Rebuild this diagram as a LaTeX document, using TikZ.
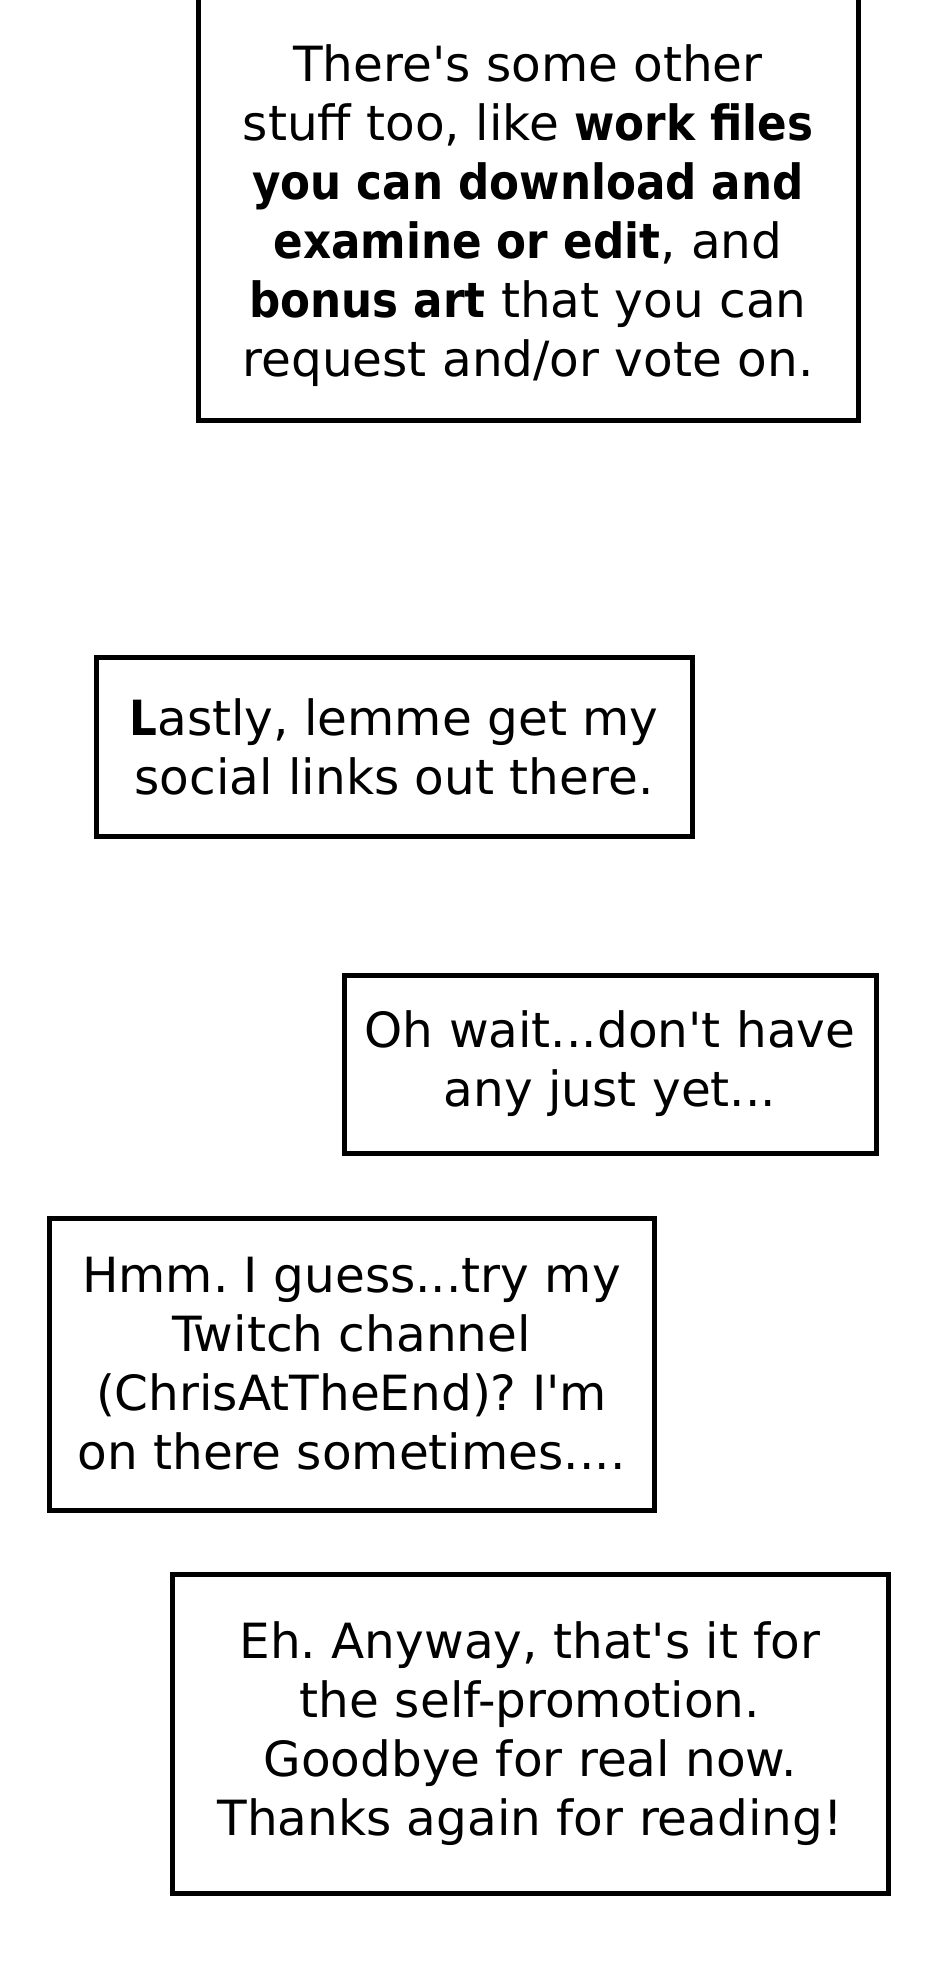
\documentclass[tikz,border=0pt]{standalone}
\usepackage{fontspec}
\setmainfont{DejaVu Sans}[BoldFont={DejaVu Sans Condensed Bold}]
\frenchspacing
\begin{document}
\begin{tikzpicture}[x=1pt, y=-1pt,
	panel/.style={draw, line width=5pt, inner sep=0pt},
	words/.style={align=center, font=\fontsize{48.5}{59}\selectfont}]
	\fill[white] (0, 0) rectangle (940, 1972);
	\useasboundingbox (0, 0) rectangle (940, 1972);

	\node[panel, minimum width=660, minimum height=480, anchor=south] (box1) at (528, 423) {};
	\node[words] (txt1) at (528, 216) {There\textquotesingle s some other\\stuff too, like \textbf{work files}\\\textbf{you can download and}\\\textbf{examine or edit}, and\\\textbf{bonus art} that you can\\request and/or vote on.};

	\node[panel, words, minimum width=596, minimum height=179] (box2) at (394, 746.5) {\textbf{L}astly, lemme get my\\social links out there.};
	\node[panel, words, minimum width=532, minimum height=178] (box3) at (610, 1064) {Oh wait...don\textquotesingle t have\\any just yet...};
	\node[panel, words, minimum width=605, minimum height=292] (box4) at (351.5, 1364) {Hmm. I guess...try my\\Twitch channel\\(ChrisAtTheEnd)? I\textquotesingle m\\on there sometimes....};
	\node[panel, words, minimum width=716, minimum height=319] (box5) at (530, 1733.5) {Eh. Anyway, that\textquotesingle s it for\\the self-promotion.\\Goodbye for real now.\\Thanks again for reading!};
\end{tikzpicture}
\end{document}
